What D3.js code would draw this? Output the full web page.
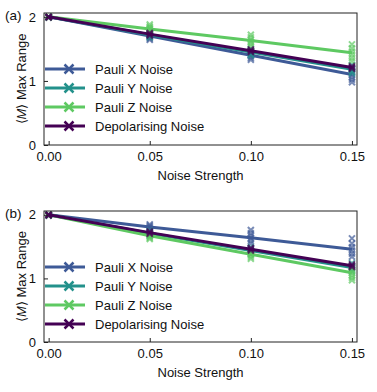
<!DOCTYPE html>
<html>
<head>
<meta charset="utf-8">
<script src="https://cdn.jsdelivr.net/npm/d3@7"></script>
<style>
  body { margin: 0; background: #fff; }
  text { font-family: "Liberation Sans", Arial, sans-serif; fill: #111; }
</style>
</head>
<body>
<div id="vis"></div>
<script>
var width = 377;
var height = 392;

var noise_strength = [0, 0.05, 0.10, 0.15];
var x_ticks = [0, 0.05, 0.10, 0.15];
var y_ticks = [0, 1, 2];
var series_names = ["Pauli X Noise", "Pauli Y Noise", "Pauli Z Noise", "Depolarising Noise"];
var series_colors = ["#3e5a97", "#23918b", "#5ec962", "#440154"];
var panel_labels = ["(a)", "(b)"];

// panel (a): mean lines
var a_lines = [
  [2.0, 1.70, 1.40, 1.10],
  [2.0, 1.72, 1.45, 1.18],
  [2.0, 1.81, 1.63, 1.44],
  [2.0, 1.73, 1.47, 1.21]
];
// panel (a): individual runs at each noise strength
var a_samples = [
  [[2.0, 2.0, 1.99], [1.64, 1.66, 1.68, 1.70, 1.72, 1.74], [1.33, 1.36, 1.39, 1.41, 1.43, 1.46], [0.98, 1.02, 1.06, 1.10, 1.14, 1.19]],
  [[2.0, 2.0, 1.99], [1.68, 1.70, 1.72, 1.74, 1.76], [1.40, 1.43, 1.45, 1.47, 1.50], [1.12, 1.15, 1.18, 1.21, 1.25]],
  [[2.0, 2.0, 1.99], [1.77, 1.79, 1.81, 1.83, 1.85, 1.88], [1.54, 1.58, 1.61, 1.64, 1.68, 1.72], [1.31, 1.36, 1.41, 1.46, 1.51, 1.57]],
  [[2.0, 2.0, 1.99], [1.71, 1.73, 1.75], [1.45, 1.47, 1.49], [1.19, 1.21, 1.23]]
];

// panel (b): mean lines
var b_lines = [
  [2.0, 1.81, 1.64, 1.46],
  [2.0, 1.71, 1.44, 1.17],
  [2.0, 1.67, 1.38, 1.09],
  [2.0, 1.72, 1.46, 1.20]
];
var b_samples = [
  [[2.0, 2.0, 1.99], [1.77, 1.79, 1.81, 1.83, 1.85], [1.55, 1.59, 1.63, 1.67, 1.71, 1.76], [1.34, 1.39, 1.44, 1.49, 1.55, 1.63]],
  [[2.0, 2.0, 1.99], [1.67, 1.69, 1.71, 1.73, 1.75], [1.39, 1.42, 1.44, 1.46, 1.49], [1.11, 1.14, 1.17, 1.20, 1.24]],
  [[2.0, 2.0, 1.99], [1.62, 1.64, 1.66, 1.68, 1.70], [1.31, 1.34, 1.37, 1.40, 1.43], [0.97, 1.01, 1.05, 1.09, 1.13, 1.18]],
  [[2.0, 2.0, 1.99], [1.70, 1.72, 1.74], [1.44, 1.46, 1.48], [1.18, 1.20, 1.22]]
];

var panels = [
  {label: panel_labels[0], lines: a_lines, samples: a_samples, top: 13, bottom: 145},
  {label: panel_labels[1], lines: b_lines, samples: b_samples, top: 211, bottom: 342}
];

var margin = {left: 44, right: 20};
var font_size = "13px";

var svg = d3.select("#vis").append("svg")
  .attr("width", width)
  .attr("height", height);

var x_scale = d3.scaleLinear()
  .domain([-0.0023, 0.1525])
  .range([margin.left, width - margin.right]);

function x_marker(g, cx, cy, size, color, sw, opacity){
  var h = size / 2;
  g.append("path")
    .attr("d", "M" + (cx - h) + "," + (cy - h) + "L" + (cx + h) + "," + (cy + h) +
               "M" + (cx - h) + "," + (cy + h) + "L" + (cx + h) + "," + (cy - h))
    .attr("stroke", color)
    .attr("stroke-width", sw)
    .attr("stroke-opacity", opacity)
    .attr("fill", "none");
}

panels.forEach(function(p){
  var y_scale = d3.scaleLinear()
    .domain([0, 2.06])
    .range([p.bottom, p.top]);

  var g = svg.append("g");

  // series: line + runs
  var line = d3.line()
    .x((d, i) => x_scale(noise_strength[i]))
    .y(d => y_scale(d));

  p.lines.forEach(function(vals, s){
    var sg = g.append("g");
    sg.append("path")
      .datum(vals)
      .attr("d", line)
      .attr("fill", "none")
      .attr("stroke", series_colors[s])
      .attr("stroke-width", 3);
    p.samples[s].forEach(function(runs, i){
      runs.forEach(function(v){
        x_marker(sg, x_scale(noise_strength[i]), y_scale(v), 6, series_colors[s], 2, 0.7);
      });
    });
  });

  // frame
  g.append("rect")
    .attr("x", x_scale.range()[0])
    .attr("y", p.top)
    .attr("width", x_scale.range()[1] - x_scale.range()[0])
    .attr("height", p.bottom - p.top)
    .attr("fill", "none")
    .attr("stroke", "#222")
    .attr("stroke-width", 1);

  // axes with inward ticks
  var x_axis = g.append("g")
    .attr("transform", "translate(0," + p.bottom + ")")
    .call(d3.axisBottom(x_scale).tickValues(x_ticks).tickSizeInner(-4).tickSizeOuter(0)
      .tickPadding(7).tickFormat(d3.format(".2f")));
  var y_axis = g.append("g")
    .attr("transform", "translate(" + margin.left + ",0)")
    .call(d3.axisLeft(y_scale).tickValues(y_ticks).tickSizeInner(-4).tickSizeOuter(0)
      .tickPadding(8).tickFormat(d3.format("d")));
  [x_axis, y_axis].forEach(function(ax){
    ax.select(".domain").remove();
    ax.selectAll(".tick line").attr("stroke", "#222");
    ax.selectAll(".tick text")
      .style("font-family", "'Liberation Sans', Arial, sans-serif")
      .style("font-size", font_size)
      .attr("fill", "#111");
  });

  // axis titles
  g.append("text")
    .attr("x", (x_scale.range()[0] + x_scale.range()[1]) / 2)
    .attr("y", p.bottom + 34.5)
    .attr("text-anchor", "middle")
    .style("font-size", font_size)
    .text("Noise Strength");

  var ylab = g.append("text")
    .attr("transform", "translate(26," + ((p.top + p.bottom) / 2) + ") rotate(-90)")
    .attr("text-anchor", "middle")
    .style("font-size", font_size);
  ylab.append("tspan").text("\u27E8");
  ylab.append("tspan").style("font-style", "italic").text("M");
  ylab.append("tspan").text("\u27E9 Max Range");

  g.append("text")
    .attr("x", 5)
    .attr("y", p.top + 7)
    .style("font-size", "13.5px")
    .text(p.label);

  // legend
  var leg = g.append("g")
    .attr("transform", "translate(" + 45 + "," + (p.top + 56) + ")");
  series_names.forEach(function(name, s){
    var row = leg.append("g").attr("transform", "translate(0," + (s * 19) + ")");
    row.append("line")
      .attr("x1", 0).attr("x2", 40)
      .attr("y1", 0).attr("y2", 0)
      .attr("stroke", series_colors[s])
      .attr("stroke-width", 3);
    x_marker(row, 24, 0, 9, series_colors[s], 2.5, 1);
    row.append("text")
      .attr("x", 50)
      .attr("y", 4.5)
      .style("font-size", font_size)
      .text(name);
  });
});
</script>
</body>
</html>
